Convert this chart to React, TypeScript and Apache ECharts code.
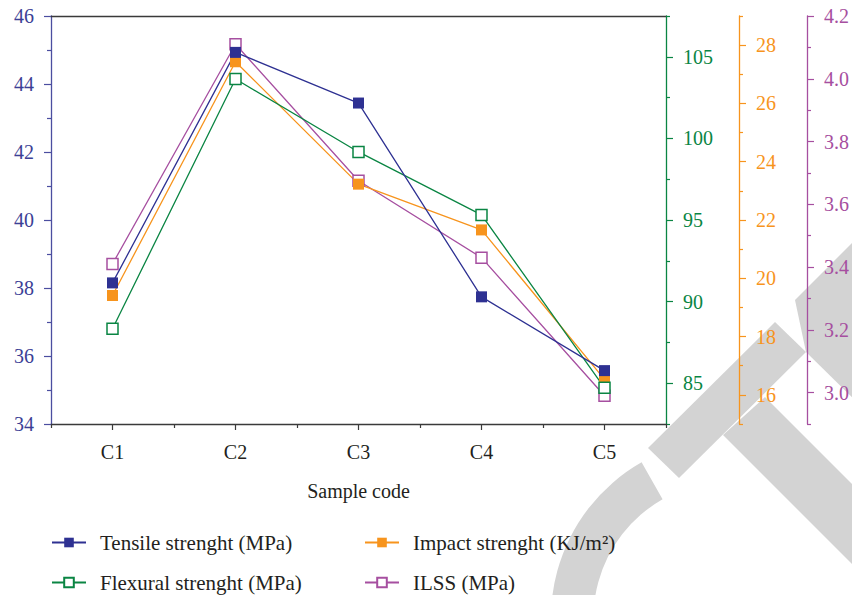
import React, { useEffect, useRef } from 'react';
import * as echarts from 'echarts';

const categories = ['C1', 'C2', 'C3', 'C4', 'C5'];
const tensile = [38.15, 44.93, 43.44, 37.74, 35.57];
const impact = [19.41, 27.43, 23.23, 21.66, 16.53];
const flexural = [88.34, 103.64, 99.17, 95.31, 84.72];
const ilss = [3.41, 4.11, 3.675, 3.43, 2.99];

const tensileRange = [34, 46];
const flexRange = [82.5, 107.5];
const flexMajor = [85, 90, 95, 100, 105];
const flexMinor = [82.5, 87.5, 92.5, 97.5, 102.5, 107.5];
const impactRange = [15, 29];
const impactMajor = [16, 18, 20, 22, 24, 26, 28];
const impactMinor = [15, 17, 19, 21, 23, 25, 27, 29];
const ilssRange = [2.9, 4.2];
const ilssMajor = [3.0, 3.2, 3.4, 3.6, 3.8, 4.0, 4.2];
const ilssMinor = [2.9, 3.1, 3.3, 3.5, 3.7, 3.9, 4.1];
const xMinorTicks = [0.5, 1.5, 2.5, 3.5, 4.5, 5.5];

const names = {
  tensile: 'Tensile strenght (MPa)',
  impact: 'Impact strenght (KJ/m²)',
  flexural: 'Flexural strenght (MPa)',
  ilss: 'ILSS (MPa)',
};

const FONT = 'Liberation Serif';
const BLUE = '#2e3192';
const BLUE_AXIS = '#4b4ea0';
const ORANGE = '#f7941d';
const GREEN = '#0a8543';
const PURPLE = '#a64fa0';
const DARK = '#231f20';
const WM = '#d3d3d3';

function rightAxis(color: string, offset: number, range: number[], major: number[], minor: number[], fmt: (v: number) => string) {
  return [
    {
      type: 'value', position: 'right', offset, min: range[0], max: range[1],
      axisLine: { show: true, lineStyle: { color, width: 1.3 } },
      axisTick: { show: true, length: 7, customValues: major, lineStyle: { color, width: 1.2 } },
      axisLabel: { show: true, customValues: major, margin: 17, color, fontSize: 20, fontFamily: FONT, formatter: fmt },
      splitLine: { show: false },
    },
    {
      type: 'value', position: 'right', offset, min: range[0], max: range[1],
      axisLine: { show: false },
      axisTick: { show: true, length: 4, customValues: minor, lineStyle: { color, width: 1.2 } },
      axisLabel: { show: false },
      splitLine: { show: false },
    },
  ];
}

export default function App() {
  const ref = useRef<HTMLDivElement>(null);
  useEffect(() => {
    if (!ref.current) return;
    const chart = echarts.init(ref.current, null, { renderer: 'svg' });
    const g = rightAxis(GREEN, 0, flexRange, flexMajor, flexMinor, (v) => String(v));
    const o = rightAxis(ORANGE, 73, impactRange, impactMajor, impactMinor, (v) => String(v));
    const p = rightAxis(PURPLE, 141, ilssRange, ilssMajor, ilssMinor, (v) => v.toFixed(1));

    const mkLegend = (name: string, left: number, top: number) => ({
      data: [name], left, top, orient: 'horizontal', itemWidth: 34, itemHeight: 12, padding: 0,
      textStyle: { color: DARK, fontFamily: FONT, fontSize: 21, padding: [0, 0, 0, 9] },
      selectedMode: false,
    });

    const option: any = {
      animation: false,
      backgroundColor: '#ffffff',
      textStyle: { fontFamily: FONT },
      graphic: [
        { type: 'polygon', z: -10, shape: { points: [[648, 448], [679, 478], [806, 352], [775, 322]] }, style: { fill: WM } },
        { type: 'polygon', z: -10, shape: { points: [[723, 435], [765, 397], [860, 492], [860, 572]] }, style: { fill: WM } },
        { type: 'polygon', z: -10, shape: { points: [[795, 300], [860, 235], [860, 405], [806, 352]] }, style: { fill: WM } },
        { type: 'sector', z: -10, shape: { cx: 730, cy: 618, r0: 136.5, r: 179, startAngle: (150 * Math.PI) / 180, endAngle: (240.4 * Math.PI) / 180, clockwise: true }, style: { fill: WM } },
      ],
      grid: { left: 51, right: 186, top: 16, bottom: 171, containLabel: false },
      legend: [
        mkLegend(names.tensile, 51, 532),
        mkLegend(names.impact, 364, 532),
        mkLegend(names.flexural, 51, 572),
        mkLegend(names.ilss, 364, 572),
      ],
      xAxis: [
        {
          type: 'category', data: categories, position: 'bottom', boundaryGap: true,
          axisLine: { show: true, lineStyle: { color: '#3a3a3a', width: 1.3 } },
          axisTick: { show: true, alignWithLabel: true, length: 6, lineStyle: { color: '#3a3a3a', width: 1.2 } },
          axisLabel: { color: DARK, fontSize: 20, fontFamily: FONT, margin: 18 },
          name: 'Sample code', nameLocation: 'middle', nameGap: 57,
          nameTextStyle: { color: DARK, fontSize: 20, fontFamily: FONT },
          splitLine: { show: false },
        },
        {
          type: 'value', position: 'bottom', min: 0.5, max: 5.5,
          axisLine: { show: false },
          axisTick: { show: true, length: 4, customValues: xMinorTicks, lineStyle: { color: '#3a3a3a', width: 1.2 } },
          axisLabel: { show: false },
          splitLine: { show: false },
        },
        {
          type: 'category', data: categories, position: 'top',
          axisLine: { show: true, lineStyle: { color: '#3a3a3a', width: 1.3 } },
          axisTick: { show: false }, axisLabel: { show: false }, splitLine: { show: false },
        },
      ],
      yAxis: [
        {
          type: 'value', position: 'left', min: tensileRange[0], max: tensileRange[1], interval: 2,
          axisLine: { show: true, lineStyle: { color: BLUE_AXIS, width: 1.3 } },
          axisTick: { show: true, length: 7, lineStyle: { color: BLUE_AXIS, width: 1.2 } },
          minorTick: { show: true, splitNumber: 2, length: 4, lineStyle: { color: BLUE_AXIS, width: 1.2 } },
          axisLabel: { color: '#3c3f96', fontSize: 20, fontFamily: FONT, margin: 17 },
          splitLine: { show: false },
        },
        ...g, ...o, ...p,
      ],
      series: [
        {
          name: names.ilss, type: 'line', yAxisIndex: 5, data: ilss, symbol: 'rect', symbolSize: 11,
          lineStyle: { color: PURPLE, width: 1.3 }, itemStyle: { color: '#ffffff', borderColor: PURPLE, borderWidth: 1.5 },
        },
        {
          name: names.impact, type: 'line', yAxisIndex: 3, data: impact, symbol: 'rect', symbolSize: 11,
          lineStyle: { color: ORANGE, width: 1.3 }, itemStyle: { color: ORANGE },
        },
        {
          name: names.flexural, type: 'line', yAxisIndex: 1, data: flexural, symbol: 'rect', symbolSize: 11,
          lineStyle: { color: GREEN, width: 1.3 }, itemStyle: { color: '#ffffff', borderColor: GREEN, borderWidth: 1.5 },
        },
        {
          name: names.tensile, type: 'line', yAxisIndex: 0, data: tensile, symbol: 'rect', symbolSize: 11,
          lineStyle: { color: BLUE, width: 1.3 }, itemStyle: { color: BLUE },
        },
      ],
    };
    chart.setOption(option);
    return () => chart.dispose();
  }, []);
  return <div ref={ref} style={{ position: 'fixed', left: 0, top: 0, width: 852, height: 595 }} />;
}
